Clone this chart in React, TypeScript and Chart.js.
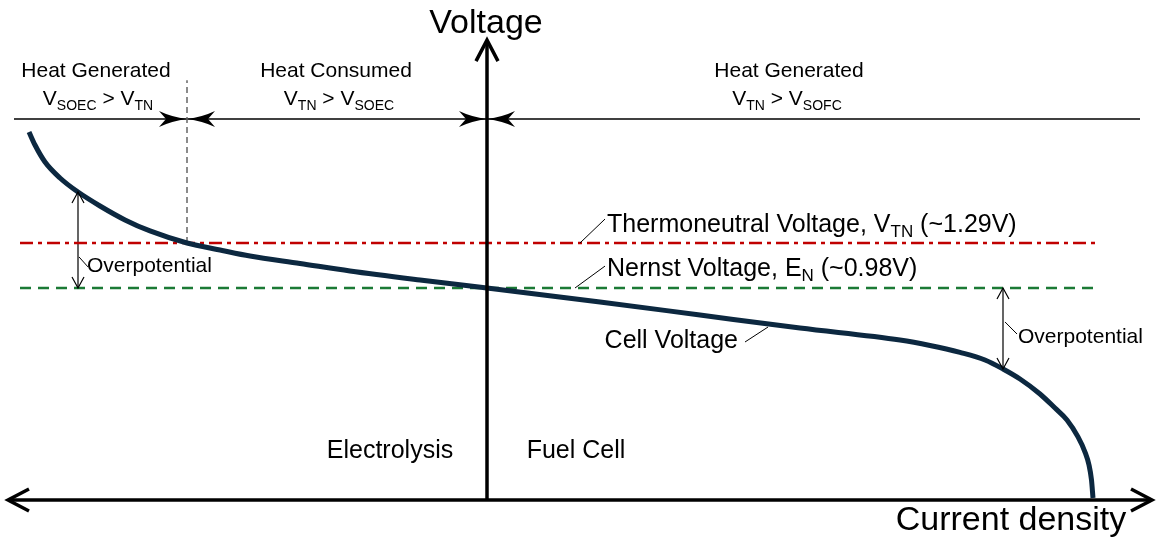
import React, { useEffect, useRef } from "react";
import { Chart, registerables } from "chart.js";

Chart.register(...registerables);

// ---- Data (schematic units: current density j, voltage V) ----
const CURRENT = [-4.58, -4.52, -4.42, -4.27, -4.09, -3.87, -3.62, -3.37, -3.0, -2.67, -2.37, -1.87, -1.37, -0.67, 0, 1.13, 2.13, 3.13, 4.13, 4.43, 4.73, 4.98, 5.16, 5.33, 5.53, 5.68, 5.8, 5.91, 5.98, 6.02, 6.045, 6.06];
const CELL_VOLTAGE = [2.055, 1.965, 1.848, 1.738, 1.641, 1.545, 1.449, 1.373, 1.29, 1.242, 1.2, 1.149, 1.097, 1.035, 0.98, 0.884, 0.794, 0.704, 0.622, 0.584, 0.536, 0.484, 0.422, 0.353, 0.25, 0.153, 0.071, -0.046, -0.15, -0.239, -0.343, -0.467];

const V_TN = 1.29; // thermoneutral voltage
const E_N = 0.98; // Nernst voltage
const REF_LINE_J = [-4.67, 6.1];
const BOUNDARY_J = -3.0; // where cell voltage crosses V_TN
const BOUNDARY_V = [V_TN, 2.412];
const REGION_LINE_V = 2.144;
const REGION_LINE_J = [-4.73, 6.53];
const AXIS_V = -0.4805;
const AXIS_J = [-4.79, 6.65];
const AXIS_TOP_V = 2.688;
const OVERPOT_J = [-4.09, 5.16];
const OVERPOT_CELL_V = [1.641, 0.422];

const X_RANGE = [-4.87, 6.7];
const Y_RANGE = [-0.7698, 2.964];

const HEADER_TITLES = ["Heat Generated", "Heat Consumed", "Heat Generated"];
const FONT = "'Liberation Sans', Arial, sans-serif";

type Seg = [string, boolean];

function drawRich(ctx: CanvasRenderingContext2D, segs: Seg[], x: number, y: number, size: number, align: "left" | "center" | "right") {
  const sub = Math.round(size * 0.68);
  const off = size * 0.22;
  let total = 0;
  const widths = segs.map(([t, s]) => {
    ctx.font = `${s ? sub : size}px ${FONT}`;
    const w = ctx.measureText(t).width;
    total += w;
    return w;
  });
  let cx = align === "left" ? x : align === "center" ? x - total / 2 : x - total;
  ctx.textAlign = "left";
  ctx.textBaseline = "alphabetic";
  segs.forEach(([t, s], i) => {
    ctx.font = `${s ? sub : size}px ${FONT}`;
    ctx.fillText(t, cx, s ? y + off : y);
    cx += widths[i];
  });
}

function chevron(ctx: CanvasRenderingContext2D, x: number, y: number, angle: number, L: number, W: number, lw: number) {
  ctx.save();
  ctx.translate(x, y);
  ctx.rotate(angle);
  ctx.beginPath();
  ctx.moveTo(-L, -W);
  ctx.lineTo(0, 0);
  ctx.lineTo(-L, W);
  ctx.lineWidth = lw;
  ctx.lineJoin = "miter";
  ctx.lineCap = "butt";
  ctx.stroke();
  ctx.restore();
}

function filledHead(ctx: CanvasRenderingContext2D, x: number, y: number, dir: number) {
  const L = 28;
  const W = 8;
  ctx.beginPath();
  ctx.moveTo(x, y);
  ctx.quadraticCurveTo(x - dir * L * 0.55, y - 2, x - dir * L, y - W);
  ctx.lineTo(x - dir * L * 0.75, y);
  ctx.lineTo(x - dir * L, y + W);
  ctx.quadraticCurveTo(x - dir * L * 0.55, y + 2, x, y);
  ctx.closePath();
  ctx.fill();
}

const decorPlugin = {
  id: "decor",
  afterDatasetsDraw(chart: any) {
    const ctx: CanvasRenderingContext2D = chart.ctx;
    const xs = chart.scales.x;
    const ys = chart.scales.y;
    const px = (j: number) => xs.getPixelForValue(j);
    const py = (v: number) => ys.getPixelForValue(v);
    ctx.save();
    ctx.fillStyle = "#000";
    ctx.strokeStyle = "#000";

    // axis arrowheads
    chevron(ctx, px(AXIS_J[0]), py(AXIS_V), Math.PI, 21, 11, 3.5);
    chevron(ctx, px(AXIS_J[1]), py(AXIS_V), 0, 21, 11, 3.5);
    chevron(ctx, px(0), py(AXIS_TOP_V), -Math.PI / 2, 21, 11, 3.5);

    // region line arrowheads
    const ry = py(REGION_LINE_V);
    filledHead(ctx, px(BOUNDARY_J), ry, 1);
    filledHead(ctx, px(BOUNDARY_J), ry, -1);
    filledHead(ctx, px(0), ry, 1);
    filledHead(ctx, px(0), ry, -1);

    // overpotential arrowheads
    OVERPOT_J.forEach((j, i) => {
      const top = Math.max(OVERPOT_CELL_V[i], E_N);
      const bot = Math.min(OVERPOT_CELL_V[i], E_N);
      chevron(ctx, px(j), py(top), -Math.PI / 2, 11, 6, 1.2);
      chevron(ctx, px(j), py(bot), Math.PI / 2, 11, 6, 1.2);
    });

    // leader lines
    const leaders: number[][] = [
      [0.93, V_TN, 1.18, 1.455],
      [0.88, E_N, 1.18, 1.131],
      [2.58, 0.608, 2.81, 0.711],
      [-4.08, 1.194, -3.99, 1.125],
      [5.18, 0.746, 5.3, 0.663],
    ];
    ctx.lineWidth = 1;
    leaders.forEach(([a, b, c, d]) => {
      ctx.beginPath();
      ctx.moveTo(px(a), py(b));
      ctx.lineTo(px(c), py(d));
      ctx.stroke();
    });

    // texts
    drawRich(ctx, [["Voltage", false]], px(-0.01), py(2.737), 34, "center");
    drawRich(ctx, [["Current density", false]], px(5.24), py(-0.687), 34, "center");

    drawRich(ctx, [[HEADER_TITLES[0], false]], px(-3.91), py(2.433), 21, "center");
    drawRich(ctx, [["V", false], ["SOEC", true], [" > V", false], ["TN", true]], px(-3.89), py(2.241), 21, "center");
    drawRich(ctx, [[HEADER_TITLES[1], false]], px(-1.51), py(2.433), 21, "center");
    drawRich(ctx, [["V", false], ["TN", true], [" > V", false], ["SOEC", true]], px(-1.48), py(2.241), 21, "center");
    drawRich(ctx, [[HEADER_TITLES[2], false]], px(3.02), py(2.433), 21, "center");
    drawRich(ctx, [["V", false], ["TN", true], [" > V", false], ["SOFC", true]], px(3.0), py(2.241), 21, "center");

    drawRich(ctx, [["Thermoneutral Voltage, V", false], ["TN", true], [" (~1.29V)", false]], px(1.2), py(1.366), 25, "left");
    drawRich(ctx, [["Nernst Voltage, E", false], ["N", true], [" (~0.98V)", false]], px(1.2), py(1.063), 25, "left");
    drawRich(ctx, [["Cell Voltage", false]], px(2.51), py(0.567), 25, "right");
    drawRich(ctx, [["Overpotential", false]], px(-4.0), py(1.09), 21, "left");
    drawRich(ctx, [["Overpotential", false]], px(5.31), py(0.601), 21, "left");
    drawRich(ctx, [["Electrolysis", false]], px(-0.97), py(-0.191), 25, "center");
    drawRich(ctx, [["Fuel Cell", false]], px(0.89), py(-0.191), 25, "center");
    ctx.restore();
  },
};

function seg(js: number[], vs: number[]) {
  return js.map((j, i) => ({ x: j, y: vs[i] }));
}

export default function App() {
  const ref = useRef<HTMLCanvasElement>(null);
  useEffect(() => {
    document.body.style.margin = "0";
    const canvas = ref.current!;
    const lineBase = { pointRadius: 0, pointHoverRadius: 0, fill: false, tension: 0 };
    const chart = new Chart(canvas, {
      type: "line",
      data: {
        datasets: [
          { ...lineBase, order: 0, data: seg([AXIS_J[0], AXIS_J[1]], [AXIS_V, AXIS_V]), borderColor: "#000", borderWidth: 3.5 },
          { ...lineBase, order: 0, data: seg([0, 0], [AXIS_V, AXIS_TOP_V]), borderColor: "#000", borderWidth: 3.5 },
          { ...lineBase, order: 1, data: seg(CURRENT, CELL_VOLTAGE), borderColor: "#0c2840", borderWidth: 5, cubicInterpolationMode: "monotone", borderCapStyle: "butt", borderJoinStyle: "round" },
          { ...lineBase, order: 2, data: seg(REF_LINE_J, [V_TN, V_TN]), borderColor: "#c00000", borderWidth: 2.6, borderDash: [13, 5, 4, 5] },
          { ...lineBase, order: 2, data: seg(REF_LINE_J, [E_N, E_N]), borderColor: "#1b7a35", borderWidth: 2.6, borderDash: [11, 7] },
          { ...lineBase, order: 3, data: seg([BOUNDARY_J, BOUNDARY_J], BOUNDARY_V), borderColor: "#666", borderWidth: 1.5, borderDash: [6, 4] },
          { ...lineBase, order: 3, data: seg(REGION_LINE_J, [REGION_LINE_V, REGION_LINE_V]), borderColor: "#000", borderWidth: 1.4 },
          { ...lineBase, order: 3, data: seg([OVERPOT_J[0], OVERPOT_J[0]], [OVERPOT_CELL_V[0], E_N]), borderColor: "#000", borderWidth: 1.2 },
          { ...lineBase, order: 3, data: seg([OVERPOT_J[1], OVERPOT_J[1]], [E_N, OVERPOT_CELL_V[1]]), borderColor: "#000", borderWidth: 1.2 },
        ],
      },
      options: {
        animation: false,
        responsive: false,
        devicePixelRatio: 1,
        layout: { padding: 0 },
        plugins: { legend: { display: false }, tooltip: { enabled: false } },
        events: [],
        scales: {
          x: { type: "linear", display: false, min: X_RANGE[0], max: X_RANGE[1] },
          y: { type: "linear", display: false, min: Y_RANGE[0], max: Y_RANGE[1] },
        },
      },
      plugins: [decorPlugin],
    } as any);
    return () => chart.destroy();
  }, []);
  return (
    <div style={{ position: "absolute", left: 0, top: 0, width: 1157, height: 542, background: "#fff" }}>
      <canvas ref={ref} width={1157} height={542} style={{ display: "block" }} />
    </div>
  );
}
